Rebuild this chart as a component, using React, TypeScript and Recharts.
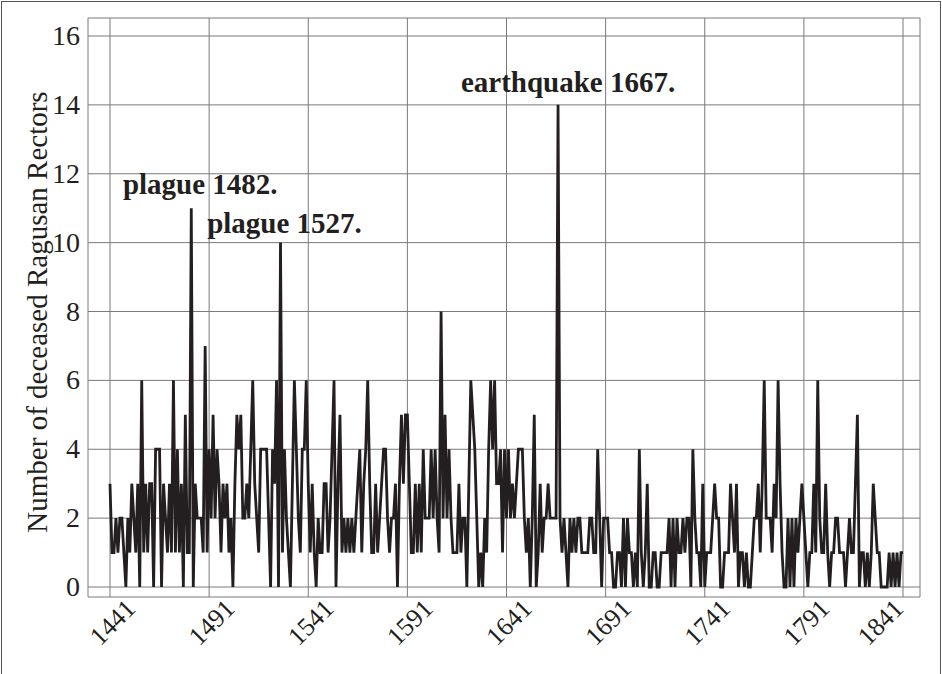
import React from "react";
import {
  CartesianGrid,
  Line,
  LineChart,
  ReferenceDot,
  XAxis,
  YAxis,
} from "recharts";

// Deceased rectors per year, in half-century blocks
const deaths1441 = [3,1,1,2,1,2,2,1,0,2, 1,3,2,1,3,0,6,1,3,1, 3,3,0,4,4,4,0,3,2,1, 3,1,6,1,4,1,3,0,5,1, 1,11,0,3,2,2,2,1,7,1];
const deaths1491 = [4,2,5,2,4,3,1,3,2,3, 1,2,0,3,5,4,5,2,2,3, 2,4,6,3,2,1,4,4,4,4, 2,0,4,3,6,0,10,1,4,2, 1,0,3,6,4,2,1,4,4,6];
const deaths1541 = [3,1,3,1,0,2,1,1,3,3, 1,2,4,6,0,3,5,1,2,1, 2,1,2,1,2,3,4,1,3,4, 6,3,1,1,3,1,2,3,4,4, 2,1,2,2,3,0,3,5,3,5];
const deaths1591 = [5,3,1,1,3,1,3,1,4,2, 2,2,4,2,4,2,1,8,2,5, 2,4,2,1,1,1,3,1,2,2, 0,3,6,5,4,2,0,1,0,2, 1,4,6,4,6,3,3,4,1,4];
const deaths1641 = [2,4,2,3,2,3,4,4,4,2, 1,2,0,2,5,0,1,3,1,2, 2,3,2,2,2,2,14,2,1,2, 1,0,2,1,2,1,2,2,1,1, 1,1,2,2,1,1,4,2,0,2];
const deaths1691 = [2,2,1,1,0,0,1,1,0,2, 0,2,1,1,0,1,0,4,1,0, 1,3,0,0,1,1,0,0,1,1, 1,1,2,0,2,0,2,1,1,2, 1,2,2,0,4,2,1,1,0,3];
const deaths1741 = [0,1,1,1,2,3,2,2,0,0, 1,1,1,3,2,1,3,0,1,1, 0,1,0,0,1,2,2,3,1,3, 6,2,2,2,1,3,2,6,3,1, 0,0,2,0,2,0,2,1,2,3];
const deaths1791 = [2,1,0,1,1,3,1,6,2,1, 1,3,1,0,1,1,2,2,1,1, 1,0,1,2,1,1,3,5,0,1, 1,0,1,0,1,3,2,1,1,0, 0,0,0,1,0,1,0,1,0,1,1];

const firstYear = 1441;
const xTicks = [1441, 1491, 1541, 1591, 1641, 1691, 1741, 1791, 1841];
const yTicks = [0, 2, 4, 6, 8, 10, 12, 14, 16];

const events = [
  { year: 1482, deaths: 11, text: "plague 1482.", dx: 9, dy: -14 },
  { year: 1527, deaths: 10, text: "plague 1527.", dx: 4, dy: -10 },
  { year: 1667, deaths: 14, text: "earthquake 1667.", dx: 10, dy: -13 },
];

const deaths = [
  ...deaths1441,
  ...deaths1491,
  ...deaths1541,
  ...deaths1591,
  ...deaths1641,
  ...deaths1691,
  ...deaths1741,
  ...deaths1791,
];
const rows = deaths.map((d, i) => ({ year: firstYear + i, deaths: d }));

const FONT = "'Liberation Serif', 'Times New Roman', serif";
const INK = "#231f20";

const XTick = (props: any) => {
  const { x, payload } = props;
  // the last label is pulled in so it stays inside the frame
  const tx = payload.value === 1841 ? x + 2 : x + 27;
  const ty = 610;
  return (
    <text
      x={tx}
      y={ty}
      transform={`rotate(-45, ${tx}, ${ty})`}
      textAnchor="end"
      fontFamily={FONT}
      fontSize={26}
      fill={INK}
    >
      {payload.value}
    </text>
  );
};

const YTick = (props: any) => {
  const { y, payload } = props;
  return (
    <text
      x={80}
      y={y + 9}
      textAnchor="end"
      fontFamily={FONT}
      fontSize={28}
      fill={INK}
    >
      {payload.value}
    </text>
  );
};

const YTitle = () => (
  <text
    x={47}
    y={312}
    transform="rotate(-90, 47, 312)"
    textAnchor="middle"
    fontFamily={FONT}
    fontSize={29}
    fill={INK}
  >
    Number of deceased Ragusan Rectors
  </text>
);

const Annotation = (props: any) => {
  const { viewBox, text, dx, dy } = props;
  const cx = viewBox.x + viewBox.width / 2;
  const cy = viewBox.y + viewBox.height / 2;
  return (
    <text
      x={cx + dx}
      y={cy + dy}
      textAnchor="middle"
      fontFamily={FONT}
      fontWeight="bold"
      fontSize={29}
      fill={INK}
    >
      {text}
    </text>
  );
};

export default function App() {
  return (
    <div
      style={{
        position: "absolute",
        left: 0,
        top: 0,
        width: 942,
        height: 674,
        overflow: "hidden",
        background: "#fff",
      }}
    >
      <div
        style={{
          position: "absolute",
          left: 1,
          top: 1,
          width: 940,
          height: 690,
          border: "1px solid #555",
          boxSizing: "border-box",
        }}
      />
      <LineChart
        width={942}
        height={674}
        data={rows}
        margin={{ top: 18, right: 22, bottom: 0, left: 0 }}
      >
        <CartesianGrid stroke="#7a7a7a" strokeWidth={1} />
        <XAxis
          dataKey="year"
          type="number"
          domain={[1441, 1841]}
          ticks={xTicks}
          interval={0}
          padding={{ left: 22, right: 17 }}
          height={77}
          axisLine={false}
          tickLine={false}
          tick={<XTick />}
        />
        <YAxis
          type="number"
          domain={[0, 16]}
          ticks={yTicks}
          interval={0}
          padding={{ top: 18, bottom: 10 }}
          width={88}
          axisLine={false}
          tickLine={false}
          tick={<YTick />}
          label={<YTitle />}
        />
        <Line
          type="linear"
          dataKey="deaths"
          stroke={INK}
          strokeWidth={2.8}
          dot={false}
          isAnimationActive={false}
        />
        {events.map((e) => (
          <ReferenceDot
            key={e.year}
            x={e.year}
            y={e.deaths}
            r={1}
            fill="none"
            stroke="none"
            label={<Annotation text={e.text} dx={e.dx} dy={e.dy} />}
          />
        ))}
      </LineChart>
    </div>
  );
}
